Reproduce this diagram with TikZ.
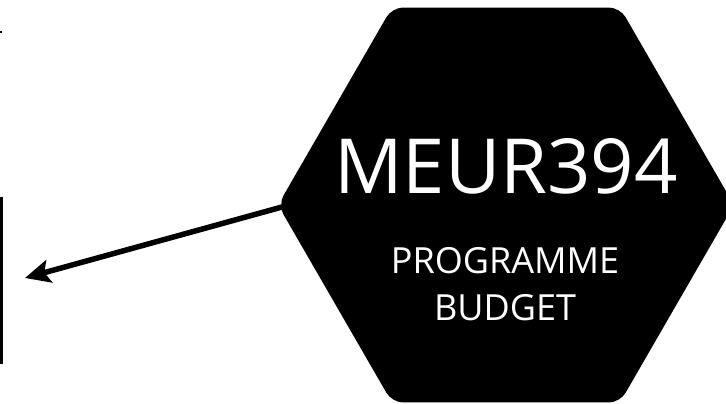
\documentclass[tikz,border=0pt]{standalone}
\usepackage{fontspec}
\setmainfont{Open Sans}
\usetikzlibrary{shapes.geometric,arrows.meta}
\tikzset{
  hexbox/.style={regular polygon, regular polygon sides=6, minimum size=456pt, inner sep=0pt, fill=black, rounded corners=11pt},
  bigtxt/.style={text=white, font=\fontsize{76}{80}\selectfont, inner sep=0pt, anchor=base},
  smalltxt/.style={text=white, font=\fontsize{36}{47}\selectfont, inner sep=0pt, align=center, anchor=base},
  conn/.style={line width=5.5pt, -{Stealth[length=25pt,width=23pt,inset=5pt]}},
  edge line/.style={line width=3pt}
}
\begin{document}
\begin{tikzpicture}[x=1pt,y=-1pt]
\useasboundingbox (0,0) rectangle (726,404);
\node[hexbox] (hex) at (506,205) {};
\node[bigtxt] (title) at (506,193) {MEUR394};
\node[smalltxt] (sub) at (505,320) {PROGRAMME\\BUDGET};
\coordinate (start) at (282,207);
\coordinate (tip) at (25,278);
\draw[conn] (start) -- (tip);
\draw[edge line] (1.5,197) -- (1.5,364);
\fill (0,31) rectangle (2,33);
\end{tikzpicture}
\end{document}
